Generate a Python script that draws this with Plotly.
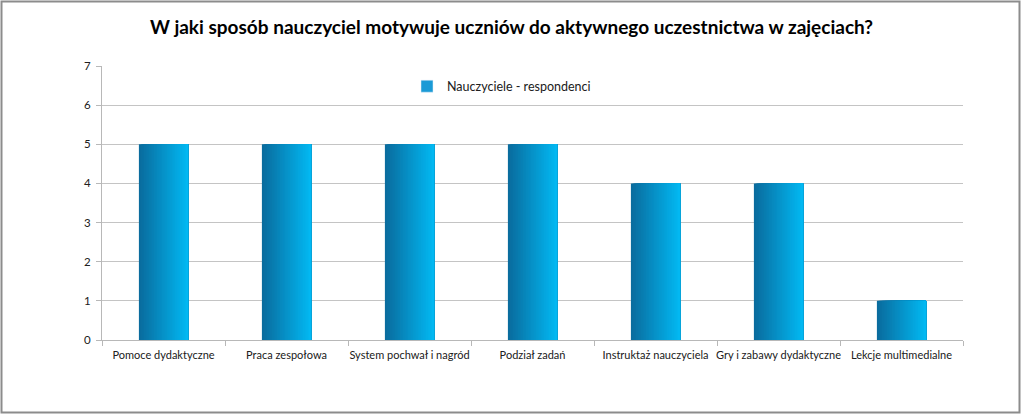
import plotly.graph_objects as go

categories = ["Pomoce dydaktyczne", "Praca zespołowa", "System pochwał i nagród",
              "Podział zadań", "Instruktaż nauczyciela", "Gry i zabawy dydaktyczne",
              "Lekcje multimedialne"]
values = [5, 5, 5, 5, 4, 4, 1]
series_name = "Nauczyciele - respondenci"
title = "W jaki sposób nauczyciel motywuje uczniów do aktywnego uczestnictwa w zajęciach?"

# bar gradient approximated with thin vertical slices, dark left -> light right
dark = (10, 108, 158)
light = (2, 184, 242)
n_slices = 30
bar_w = 0.4

fig = go.Figure()
for i in range(n_slices):
    t = i / (n_slices - 1)
    c = tuple(round(dark[k] + (light[k] - dark[k]) * t) for k in range(3))
    left = -bar_w / 2 + i * bar_w / n_slices
    fig.add_trace(go.Bar(x=categories, y=values,
                         width=bar_w / 2 - left,
                         offset=left,
                         marker={"color": "rgb(%d,%d,%d)" % c, "line": {"width": 0}},
                         showlegend=False, hoverinfo="skip"))
fig.add_trace(go.Bar(name=series_name, x=categories, y=[None] * len(categories),
                     marker={"color": "#1a9ad6"}))

W, H = 1023, 415
ml, mr, mt, mb = 102, 60, 66, 75
pw, ph = W - ml - mr, H - mt - mb
fig.add_shape(type="rect", xref="paper", yref="paper",
              x0=-(ml - 1.5) / pw, x1=1 + (mr - 3.5) / pw,
              y0=-(mb - 2.5) / ph, y1=1 + (mt - 1.5) / ph,
              line={"color": "#8c8c8c", "width": 2})

fig.update_layout(
    width=W, height=H,
    margin={"l": ml, "r": mr, "t": mt, "b": mb, "autoexpand": False},
    barmode="overlay",
    paper_bgcolor="white", plot_bgcolor="white",
    font={"family": "Lato, Calibri, sans-serif", "size": 11, "color": "#404040"},
    title={"text": title, "x": 0.5, "xanchor": "center", "y": 0.935, "yanchor": "middle",
           "font": {"size": 19, "color": "black", "family": "Lato, Calibri, sans-serif", "weight": "bold"}},
    legend={"x": 0.464, "y": 0.925, "xanchor": "center", "yanchor": "middle",
            "bgcolor": "rgba(0,0,0,0)", "font": {"size": 12.5, "color": "#202020"},
            "itemwidth": 30},
    xaxis={"showgrid": False, "showline": True, "linecolor": "#b8b8b8",
           "ticks": "outside", "tickcolor": "#b8b8b8", "ticklen": 5, "tickangle": 0,
           "automargin": False, "ticklabelstandoff": 5,
           "tickson": "boundaries", "tickfont": {"size": 11, "color": "#202020"}},
    yaxis={"range": [0, 7], "dtick": 1, "showgrid": True, "gridcolor": "#c4c4c4",
           "showline": True, "linecolor": "#b8b8b8", "ticks": "outside",
           "tickcolor": "#b8b8b8", "ticklen": 5, "zeroline": False, "automargin": False,
           "ticklabelstandoff": 3,
           "tickfont": {"size": 11.5, "color": "#202020"}},
)

fig.write_html("out.html", config={"displayModeBar": False},
               post_script="document.body.style.margin='0';document.body.style.overflow='hidden';")
